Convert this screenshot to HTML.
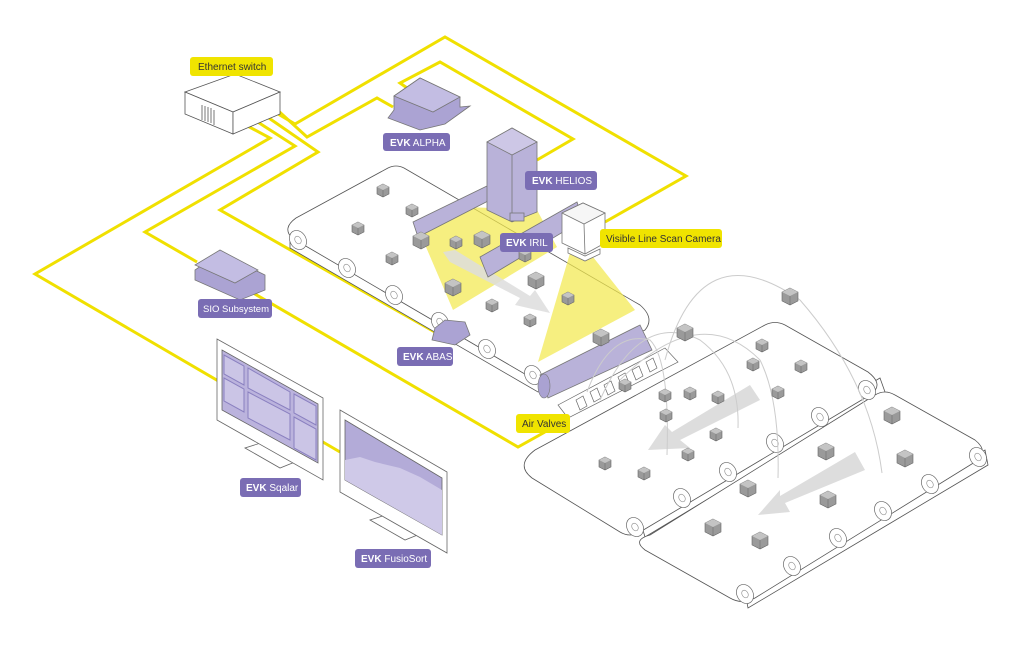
<!DOCTYPE html>
<html><head><meta charset="utf-8"><style>
body{margin:0;background:#fff}
svg{display:block}
.lb{font-family:"Liberation Sans",sans-serif;font-size:10px}
</style></head><body>
<svg width="1024" height="645" viewBox="0 0 1024 645" xmlns="http://www.w3.org/2000/svg">
<defs>
<g id="c"><polygon points="0,-6 6,-3 6,4 0,7 -6,4 -6,-3" fill="#9a9a9a" stroke="#666" stroke-width="0.6"/><polygon points="0,-6 6,-3 0,0 -6,-3" fill="#c4c4c4"/><polyline points="0,7 0,0" stroke="#666" stroke-width="0.5"/></g>
<g id="C"><polygon points="0,-8 8,-4 8,5 0,9 -8,5 -8,-4" fill="#9a9a9a" stroke="#666" stroke-width="0.6"/><polygon points="0,-8 8,-4 0,0 -8,-4" fill="#c4c4c4"/><polyline points="0,9 0,0" stroke="#666" stroke-width="0.5"/></g>
<g id="r"><ellipse rx="8" ry="10" fill="#fff" stroke="#666" stroke-width="0.7" transform="rotate(-30)"/><ellipse rx="3" ry="4" fill="none" stroke="#888" stroke-width="0.6" transform="rotate(-30)"/></g>
</defs>
<g fill="none" stroke="#f0e000" stroke-width="3" stroke-linejoin="miter">
<polyline points="240,122 270,138 35,274 340,452"/>
<polyline points="253,119 295,146 145,232 197,262"/>
<polyline points="248,290 518,447 545,432"/>
<polyline points="263,114 318,152 220,210 440,335"/>
<polyline points="268,108 295,124 445,37 686,176 605,222"/>
<polyline points="273,106 307,137 377,98 393,107"/>
<polyline points="410,90 400,83 440,62 573,139 537,160"/>
</g>
<!-- switch -->
<g stroke="#555" stroke-width="0.8" fill="#fff">
<polygon points="185,92 235,74 280,92 233,112"/>
<polygon points="185,92 233,112 233,134 185,114"/>
<polygon points="233,112 280,92 280,114 233,134"/>
</g>
<g stroke="#555" stroke-width="0.8"><line x1="202" y1="105" x2="202" y2="120"/><line x1="205" y1="106" x2="205" y2="121"/><line x1="208" y1="107" x2="208" y2="122"/><line x1="211" y1="108" x2="211" y2="123"/><line x1="214" y1="110" x2="214" y2="125"/></g>
<!-- conveyor 1 -->
<g stroke="#555" stroke-width="0.8" fill="#fff">
<path d="M290,232 L290,248 L538,392 L545,390 L545,374 Z"/>
<path d="M296,218 L388,168 Q396,164 404,168 L640,305 Q655,318 645,330 L548,378 Q538,382 530,377 L292,238 Q282,228 296,218Z"/>
</g>
<g><use href="#r" x="298" y="240"/><use href="#r" x="347" y="268"/><use href="#r" x="394" y="295"/><use href="#r" x="440" y="322"/><use href="#r" x="487" y="349"/><use href="#r" x="533" y="375"/></g>
<!-- cones & arrow -->
<polygon points="420,233 467,207 537,210 557,247 453,310" fill="#f2e84a" opacity="0.7"/>
<polygon points="570,253 593,257 635,310 538,362" fill="#f2e84a" opacity="0.7"/>
<polygon points="443,252 450,262 520,298 515,305 550,313 535,290 530,296 455,250" fill="#ddd" opacity="0.85"/>
<!-- hardware -->
<g stroke="#777" stroke-width="0.8">
<polygon points="413,222 487,186 490,200 418,237" fill="#b9b2d9"/>
<polygon points="487,142 512,128 537,142 537,212 512,222 487,210" fill="#b9b2d9"/>
<polygon points="487,142 512,128 537,142 512,155" fill="#cdc7e6"/>
<line x1="512" y1="155" x2="512" y2="222"/>
<rect x="510" y="213" width="14" height="8" fill="#b9b2d9"/>
<polygon points="480,257 577,202 583,220 488,277" fill="#b9b2d9"/>
<polygon points="562,213 583,203 605,213 605,243 585,254 562,243" fill="#fff"/>
<polygon points="562,213 583,203 605,213 584,224" fill="#f6f6f6"/>
<line x1="584" y1="224" x2="585" y2="254"/>
<polygon points="568,248 585,256 600,249 600,254 585,261 568,253" fill="#fff"/>
<polygon points="388,118 394,110 394,96 420,78 460,97 460,107 470,106 445,124 420,130" fill="#aba3d3"/>
<polygon points="394,96 420,78 460,97 433,112" fill="#c3bde3"/>
<polygon points="435,328 445,320 465,322 470,335 455,345 432,340" fill="#aba3d3"/>
<polygon points="195,270 220,253 265,275 265,290 240,300 195,280" fill="#aba3d3"/>
<polygon points="195,265 220,250 258,270 235,283" fill="#c3bde3"/>
</g>
<!-- conveyors 2 & 3 -->
<g stroke="#555" stroke-width="0.8" fill="#fff">
<path d="M640,520 L880,378 L885,392 L645,537 Z"/>
<path d="M535,450 L765,325 Q775,320 785,325 L868,372 Q885,385 870,395 L640,532 Q630,538 620,532 L532,478 Q515,465 535,450Z"/>
<path d="M745,592 L985,450 L988,465 L748,608 Z"/>
<path d="M650,535 L875,395 Q885,389 895,395 L975,440 Q990,452 975,462 L755,598 Q742,605 730,598 L645,550 Q632,540 650,535Z"/>
</g>
<g><use href="#r" x="635" y="527"/><use href="#r" x="682" y="498"/><use href="#r" x="728" y="472"/><use href="#r" x="775" y="443"/><use href="#r" x="820" y="417"/><use href="#r" x="867" y="390"/>
<use href="#r" x="745" y="594"/><use href="#r" x="792" y="566"/><use href="#r" x="838" y="538"/><use href="#r" x="883" y="511"/><use href="#r" x="930" y="484"/><use href="#r" x="978" y="457"/></g>
<!-- air valves -->
<polygon points="540,375 640,325 652,350 548,398" fill="#b9b2d9" stroke="#777" stroke-width="0.8"/>
<ellipse cx="544" cy="386" rx="6" ry="12" fill="#aaa2d2" stroke="#777" stroke-width="0.6"/>
<polygon points="558,405 665,348 678,362 568,418" fill="#fff" stroke="#666" stroke-width="0.7"/>
<g fill="none" stroke="#666" stroke-width="0.7">
<polygon points="576,400 583,396 587,406 580,410"/><polygon points="590,392 597,388 601,398 594,402"/><polygon points="604,385 611,381 615,391 608,395"/><polygon points="618,377 625,373 629,383 622,387"/><polygon points="632,370 639,366 643,376 636,380"/><polygon points="646,362 653,358 657,368 650,372"/>
</g>
<polygon points="750,385 760,400 680,440 690,448 648,450 665,425 672,432" fill="#ddd"/>
<polygon points="855,452 865,470 785,503 790,512 758,515 780,490 780,496" fill="#ddd"/>
<g fill="none" stroke="#ccc" stroke-width="1">
<path d="M587,392 Q610,330 650,340 Q670,360 667,455"/>
<path d="M600,400 Q640,310 700,340 Q740,370 738,428"/>
<path d="M620,380 Q700,300 760,360 Q780,400 778,478"/>
<path d="M665,360 Q700,230 800,300 Q870,380 882,473"/>
</g>
<g>
<use href="#c" x="383" y="190"/><use href="#c" x="412" y="210"/><use href="#c" x="358" y="228"/><use href="#C" x="482" y="239"/><use href="#c" x="456" y="242"/><use href="#C" x="421" y="240"/><use href="#c" x="392" y="258"/><use href="#c" x="525" y="255"/><use href="#C" x="453" y="287"/><use href="#C" x="536" y="280"/><use href="#c" x="568" y="298"/><use href="#C" x="601" y="337"/><use href="#c" x="530" y="320"/><use href="#c" x="492" y="305"/><use href="#c" x="625" y="385"/><use href="#C" x="685" y="332"/><use href="#C" x="790" y="296"/><use href="#c" x="665" y="395"/><use href="#c" x="666" y="415"/><use href="#c" x="718" y="397"/><use href="#c" x="762" y="345"/><use href="#c" x="753" y="364"/><use href="#c" x="801" y="366"/><use href="#c" x="778" y="392"/><use href="#c" x="716" y="434"/><use href="#c" x="688" y="454"/><use href="#c" x="605" y="463"/><use href="#c" x="644" y="473"/><use href="#c" x="690" y="393"/>
<use href="#C" x="748" y="488"/><use href="#C" x="828" y="499"/><use href="#C" x="826" y="451"/><use href="#C" x="905" y="458"/><use href="#C" x="713" y="527"/><use href="#C" x="760" y="540"/><use href="#C" x="892" y="415"/>
</g>
<!-- monitors -->
<g stroke="#666" stroke-width="0.8">
<polygon points="245,448 280,468 305,458 270,440" fill="#fff"/>
<polygon points="217,339 323,398 323,480 217,420" fill="#fff"/>
<polygon points="222,350 318,404 318,463 222,410" fill="#bbb3dd"/>
<g fill="#cbc5e6" stroke="#8a80c0" stroke-width="1"><polygon points="224,355 244,366 244,385 224,374"/><polygon points="224,378 244,389 244,412 224,401"/><polygon points="248,368 290,392 290,410 248,388"/><polygon points="248,392 290,414 290,440 248,418"/><polygon points="294,394 316,406 316,425 294,413"/><polygon points="294,417 316,429 316,460 294,448"/></g>
<polygon points="370,520 405,540 430,530 395,512" fill="#fff"/>
<polygon points="340,410 447,472 447,553 340,492" fill="#fff"/>
<polygon points="345,420 442,478 442,535 345,480" fill="#b3abd8"/>
<polygon points="345,460 360,457 375,462 400,468 420,477 442,490 442,535 345,480" fill="#cfc9e8" stroke="none"/>
</g>
<!-- labels -->
<g class="lb">
<rect x="190" y="57" width="83" height="19" rx="3" fill="#f0e400"/><text x="198" y="70" fill="#333">Ethernet switch</text>
<rect x="383" y="133" width="67" height="18" rx="3" fill="#7a6db4"/><text x="390" y="146" fill="#fff"><tspan font-weight="bold">EVK</tspan> ALPHA</text>
<rect x="525" y="171" width="72" height="19" rx="3" fill="#7a6db4"/><text x="532" y="184" fill="#fff"><tspan font-weight="bold">EVK</tspan> HELIOS</text>
<rect x="500" y="233" width="53" height="19" rx="3" fill="#7a6db4"/><text x="506" y="246" fill="#fff"><tspan font-weight="bold">EVK</tspan> IRIL</text>
<rect x="600" y="229" width="122" height="19" rx="3" fill="#f0e400"/><text x="606" y="242" fill="#333">Visible Line Scan Camera</text>
<rect x="198" y="299" width="74" height="19" rx="3" fill="#7a6db4"/><text x="203" y="312" fill="#fff" font-size="9.5">SIO Subsystem</text>
<rect x="397" y="347" width="56" height="19" rx="3" fill="#7a6db4"/><text x="403" y="360" fill="#fff"><tspan font-weight="bold">EVK</tspan> ABAS</text>
<rect x="516" y="414" width="54" height="19" rx="3" fill="#f0e400"/><text x="522" y="427" fill="#333">Air Valves</text>
<rect x="240" y="478" width="61" height="19" rx="3" fill="#7a6db4"/><text x="246" y="491" fill="#fff"><tspan font-weight="bold">EVK</tspan> Sqalar</text>
<rect x="355" y="549" width="76" height="19" rx="3" fill="#7a6db4"/><text x="361" y="562" fill="#fff"><tspan font-weight="bold">EVK</tspan> FusioSort</text>
</g>
</svg>
</body></html>
